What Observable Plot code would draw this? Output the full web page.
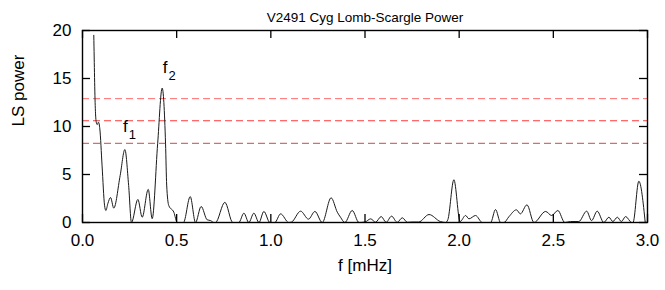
<!DOCTYPE html>
<html><head><meta charset="utf-8">
<script src="https://cdn.jsdelivr.net/npm/d3@7"></script>
<script src="https://cdn.jsdelivr.net/npm/@observablehq/plot@0.6"></script>
<style>body{margin:0;background:#fff}</style>
</head><body><div id="chart"></div>
<script>
const title = "V2491 Cyg Lomb-Scargle Power";
const xLabel = "f [mHz]";
const yLabel = "LS power";
const freq = [0.060,0.068,0.073,0.078,0.085,0.092,0.104,0.117,0.124,0.135,0.149,0.166,0.200,0.225,0.245,0.260,0.294,0.317,0.349,0.370,0.399,0.423,0.441,0.447,0.458,0.485,0.503,0.536,0.572,0.600,0.630,0.662,0.680,0.697,0.706,0.756,0.798,0.830,0.857,0.883,0.910,0.937,0.963,0.995,1.021,1.052,1.095,1.110,1.158,1.200,1.234,1.273,1.320,1.353,1.370,1.393,1.432,1.468,1.500,1.530,1.556,1.586,1.612,1.641,1.671,1.698,1.725,1.750,1.785,1.840,1.900,1.928,1.940,1.972,2.005,2.034,2.052,2.087,2.123,2.167,2.193,2.220,2.238,2.264,2.304,2.325,2.360,2.397,2.459,2.491,2.524,2.561,2.591,2.635,2.677,2.703,2.733,2.768,2.795,2.816,2.840,2.861,2.884,2.916,2.923,2.954,2.988];
const power = [19.5,11.9,10.45,10.2,10.45,9.75,5.9,1.8,1.25,2.0,2.6,1.5,4.9,7.6,3.85,0.0,2.4,0.55,3.45,0.4,8.2,14.0,8.2,3.9,1.77,1.07,0.0,0.0,2.7,0.0,1.67,0.28,0.2,0.0,0.0,2.1,0.0,0.0,0.97,0.0,0.97,0.0,1.15,0.0,0.0,0.9,0.0,0.05,1.18,0.35,1.15,0.0,2.57,1.07,0.55,0.0,1.25,0.0,0.05,0.38,0.03,0.62,0.02,0.66,0.02,0.49,0.02,0.05,0.05,0.83,0.1,0.0,0.3,4.45,0.1,0.73,0.38,0.73,0.0,0.0,1.35,0.0,0.0,0.6,1.32,0.9,1.84,0.0,1.15,0.73,1.25,0.0,0.1,0.1,1.18,0.2,1.18,0.0,0.55,0.1,0.55,0.1,0.62,0.0,0.0,4.3,0.0];
const thresholds = [12.9, 10.6, 8.25];
const thresholdColors = ["#ff6a6a", "#ff3b3b", "#d04848"];
const xTicks = [0, 0.5, 1.0, 1.5, 2.0, 2.5, 3.0];
const yTicks = [0, 5, 10, 15, 20];
const peakNames = ["f", "f"];
const peakSubs = ["1", "2"];
const peakX = [0.228, 0.438];
const peakY = [9.95, 16.1];

const series = freq.map((f, i) => ({f, p: power[i]}));
const peaks = peakNames.map((n, i) => ({n, s: peakSubs[i], x: peakX[i], y: peakY[i]}));

const W = 665, H = 290, mL = 82, mR = 18, mT = 30, mB = 68;
const fw = W - mL - mR, fh = H - mT - mB, tk = 8;

const chart = Plot.plot({
  width: W, height: H,
  marginLeft: mL, marginRight: mR, marginTop: mT, marginBottom: mB,
  style: {fontFamily: "'Liberation Sans', Arial, Helvetica, sans-serif", fontSize: "17px", color: "#000", background: "#fff"},
  x: {domain: [0, 3]},
  y: {domain: [0, 20]},
  marks: [
    ...thresholds.map((t, i) => Plot.ruleY([t], {stroke: thresholdColors[i], strokeDasharray: "7,4", strokeWidth: 1})),
    Plot.line(series, {x: "f", y: "p", curve: "monotone-x", stroke: "#1a1a1a", strokeWidth: 1}),
    Plot.tickX(xTicks, {x: d => d, insetTop: fh - tk, stroke: "#000", strokeWidth: 1.3}),
    Plot.tickX(xTicks, {x: d => d, insetBottom: fh - tk, stroke: "#000", strokeWidth: 1.3}),
    Plot.tickY(yTicks, {y: d => d, insetRight: fw - tk, stroke: "#000", strokeWidth: 1.3}),
    Plot.tickY(yTicks, {y: d => d, insetLeft: fw - tk, stroke: "#000", strokeWidth: 1.3}),
    Plot.frame({stroke: "#000", strokeWidth: 1.4}),
    Plot.axisX(xTicks, {tickSize: 0, tickPadding: 11, tickFormat: d3.format(".1f"), fontSize: 17, label: null}),
    Plot.axisY(yTicks, {tickSize: 0, tickPadding: 11, fontSize: 17, label: null}),
    Plot.text([xLabel], {text: d => d, frameAnchor: "bottom", dy: 48, fontSize: 17}),
    Plot.text([yLabel], {text: d => d, frameAnchor: "left", rotate: -90, dx: -64, fontSize: 17}),
    Plot.text([title], {text: d => d, frameAnchor: "top", dy: -18, fontSize: 13.5}),
    Plot.text(peaks, {x: "x", y: "y", text: "n", fontSize: 17}),
    Plot.text(peaks, {x: "x", y: "y", text: "s", fontSize: 13, dx: 7, dy: 8})
  ]
});
document.getElementById("chart").append(chart);
</script>
</body></html>
